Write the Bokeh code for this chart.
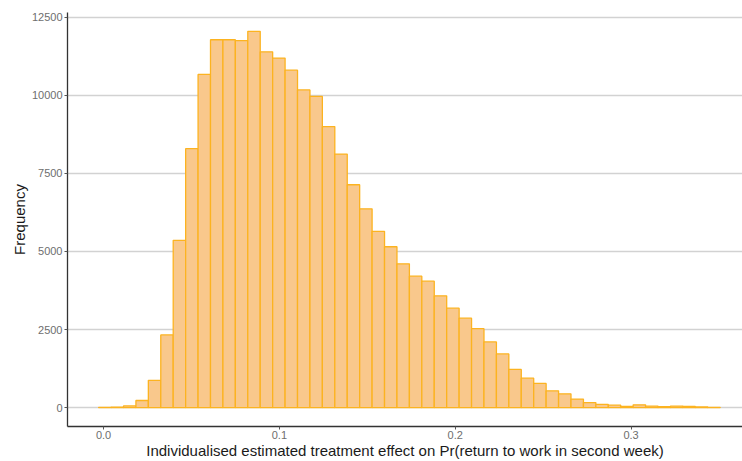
import numpy as np
from bokeh.plotting import figure
from bokeh.models import ColumnDataSource, FixedTicker, Range1d, CustomJSTickFormatter
from bokeh.embed import file_html
from bokeh.resources import INLINE

# Histogram of individualised treatment effects (50 equal-width bins)
bin_lo = -0.0028
bin_width = 0.00707
counts = [
    10, 15, 55, 230, 875, 2330, 5355, 8290, 10665, 11775,
    11775, 11745, 12045, 11390, 11190, 10800, 10170, 9960, 8995, 8115,
    7135, 6365, 5645, 5150, 4605, 4210, 4050, 3580, 3185, 2865,
    2530, 2105, 1720, 1225, 945, 775, 540, 445, 275, 165,
    105, 80, 40, 90, 50, 30, 50, 40, 25, 10,
]
x_ticks = [0.0, 0.1, 0.2, 0.3]
y_ticks = [0, 2500, 5000, 7500, 10000, 12500]

left = bin_lo + bin_width * np.arange(len(counts))
src = ColumnDataSource(dict(left=left, right=left + bin_width, top=counts,
                            bottom=[0] * len(counts)))

ymax = max(counts)
p = figure(width=742, height=461, output_backend="svg", toolbar_location=None,
           x_range=Range1d(-0.0205, 0.3634),
           y_range=Range1d(-0.05 * ymax, 1.05 * ymax),
           min_border_left=67, min_border_right=0, min_border_top=12,
           min_border_bottom=34)

p.quad(left="left", right="right", top="top", bottom="bottom", source=src,
       fill_color="#F9C88C", fill_alpha=1.0, line_color="#FCB320", line_width=1.3)

font = "Liberation Sans"
p.background_fill_color = "white"
p.border_fill_color = "white"
p.outline_line_color = None

p.xgrid.grid_line_color = None
p.ygrid.grid_line_color = "#D2D2D2"
p.ygrid.grid_line_width = 1.4

p.xaxis.ticker = FixedTicker(ticks=x_ticks)
p.yaxis.ticker = FixedTicker(ticks=y_ticks)
p.xaxis.formatter = CustomJSTickFormatter(code="return tick.toFixed(1);")
p.yaxis.formatter = CustomJSTickFormatter(code="return tick.toFixed(0);")

p.xaxis.axis_label = "Individualised estimated treatment effect on Pr(return to work in second week)"
p.yaxis.axis_label = "Frequency"

for ax in (p.xaxis, p.yaxis):
    ax.axis_line_color = "#333333"
    ax.axis_line_width = 1.3
    ax.major_tick_line_color = "#555555"
    ax.major_tick_out = 3
    ax.major_tick_in = 0
    ax.minor_tick_line_color = None
    ax.major_label_text_font = font
    ax.major_label_text_font_size = "11px"
    ax.major_label_text_color = "#6E6E6E"
    ax.axis_label_text_font = font
    ax.axis_label_text_font_size = "15px"
    ax.axis_label_text_font_style = "normal"
    ax.axis_label_text_color = "#1A1A1A"

p.xaxis.major_label_standoff = 1
p.xaxis.axis_label_standoff = 0
p.yaxis.major_label_standoff = 2
p.yaxis.axis_label_standoff = 1

open("out.html", "w").write(file_html(p, INLINE))
